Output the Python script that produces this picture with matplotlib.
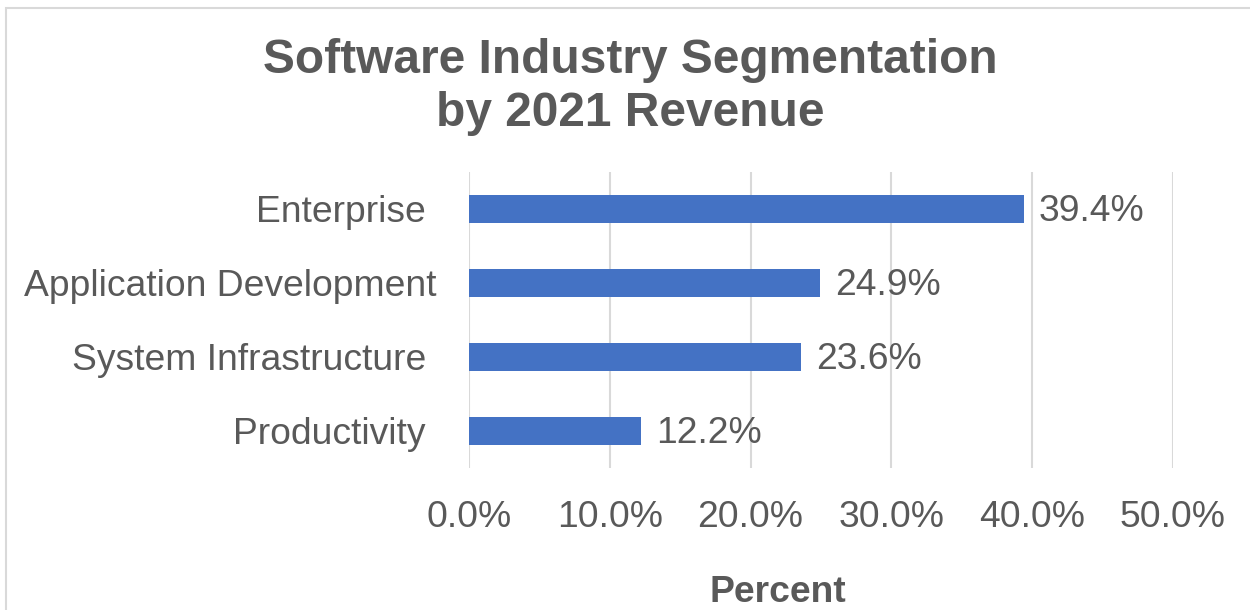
import matplotlib.pyplot as plt
from matplotlib.patches import Rectangle
from matplotlib.ticker import FuncFormatter
from matplotlib.transforms import ScaledTranslation

plt.rcParams['font.family'] = ['Liberation Sans', 'DejaVu Sans']

categories = ['Enterprise', 'Application Development', 'System Infrastructure', 'Productivity']
percent = [39.4, 24.9, 23.6, 12.2]
xticks = [0, 10, 20, 30, 40, 50]

grey = '#595959'
bar_color = '#4472C4'
grid_color = '#D9D9D9'

fig = plt.figure(figsize=(12.5, 6.1), dpi=100)
ax = fig.add_axes([469 / 1250, 1 - 468 / 610, (1173 - 469) / 1250, (468 - 172) / 610])

ypos = list(range(len(categories)))
bars = ax.barh(ypos, percent, height=0.365, color=bar_color, zorder=3)
ax.set_ylim(len(categories) - 0.5, -0.5)
ax.set_xlim(0, 50)
ax.set_yticks(ypos)
ax.set_yticklabels(categories)
ax.set_xticks(xticks)
ax.xaxis.set_major_formatter(FuncFormatter(lambda v, p: '%.1f%%' % v))

ax.grid(axis='x', color=grid_color, linewidth=1.5, zorder=0)
for s in ax.spines.values():
    s.set_visible(False)
ax.tick_params(axis='both', length=0, labelsize=26.8, colors=grey)
ax.tick_params(axis='x', pad=23)
ax.tick_params(axis='y', pad=31)

# the long label sits a bit further right in the original
lbl = ax.get_yticklabels()[1]
lbl.set_transform(lbl.get_transform() + ScaledTranslation(11 / 100, 0, fig.dpi_scale_trans))

# data labels
for b, v in zip(bars, percent):
    ax.annotate('%.1f%%' % v, (b.get_width(), b.get_y() + b.get_height() / 2),
                xytext=(11, -2), textcoords='offset points', va='center', ha='left',
                fontsize=26.8, color=grey)

fig.text(0.5 * (263 + 998) / 1250, 1 - 87 / 610, 'Software Industry Segmentation\nby 2021 Revenue',
         ha='center', va='center', fontsize=34.5, fontweight='bold', color=grey, linespacing=1.22)
fig.text(778 / 1250, 1 - 593 / 610, 'Percent', ha='center', va='center',
         fontsize=26.8, fontweight='bold', color=grey)

# chart border (cropped)
fig.patches.append(Rectangle((6 / 1250, -0.1), 1.2, 1 - 8 / 610 + 0.1, transform=fig.transFigure,
                             fill=False, edgecolor=grid_color, linewidth=1.5))

fig.savefig('out.png', dpi=100)
